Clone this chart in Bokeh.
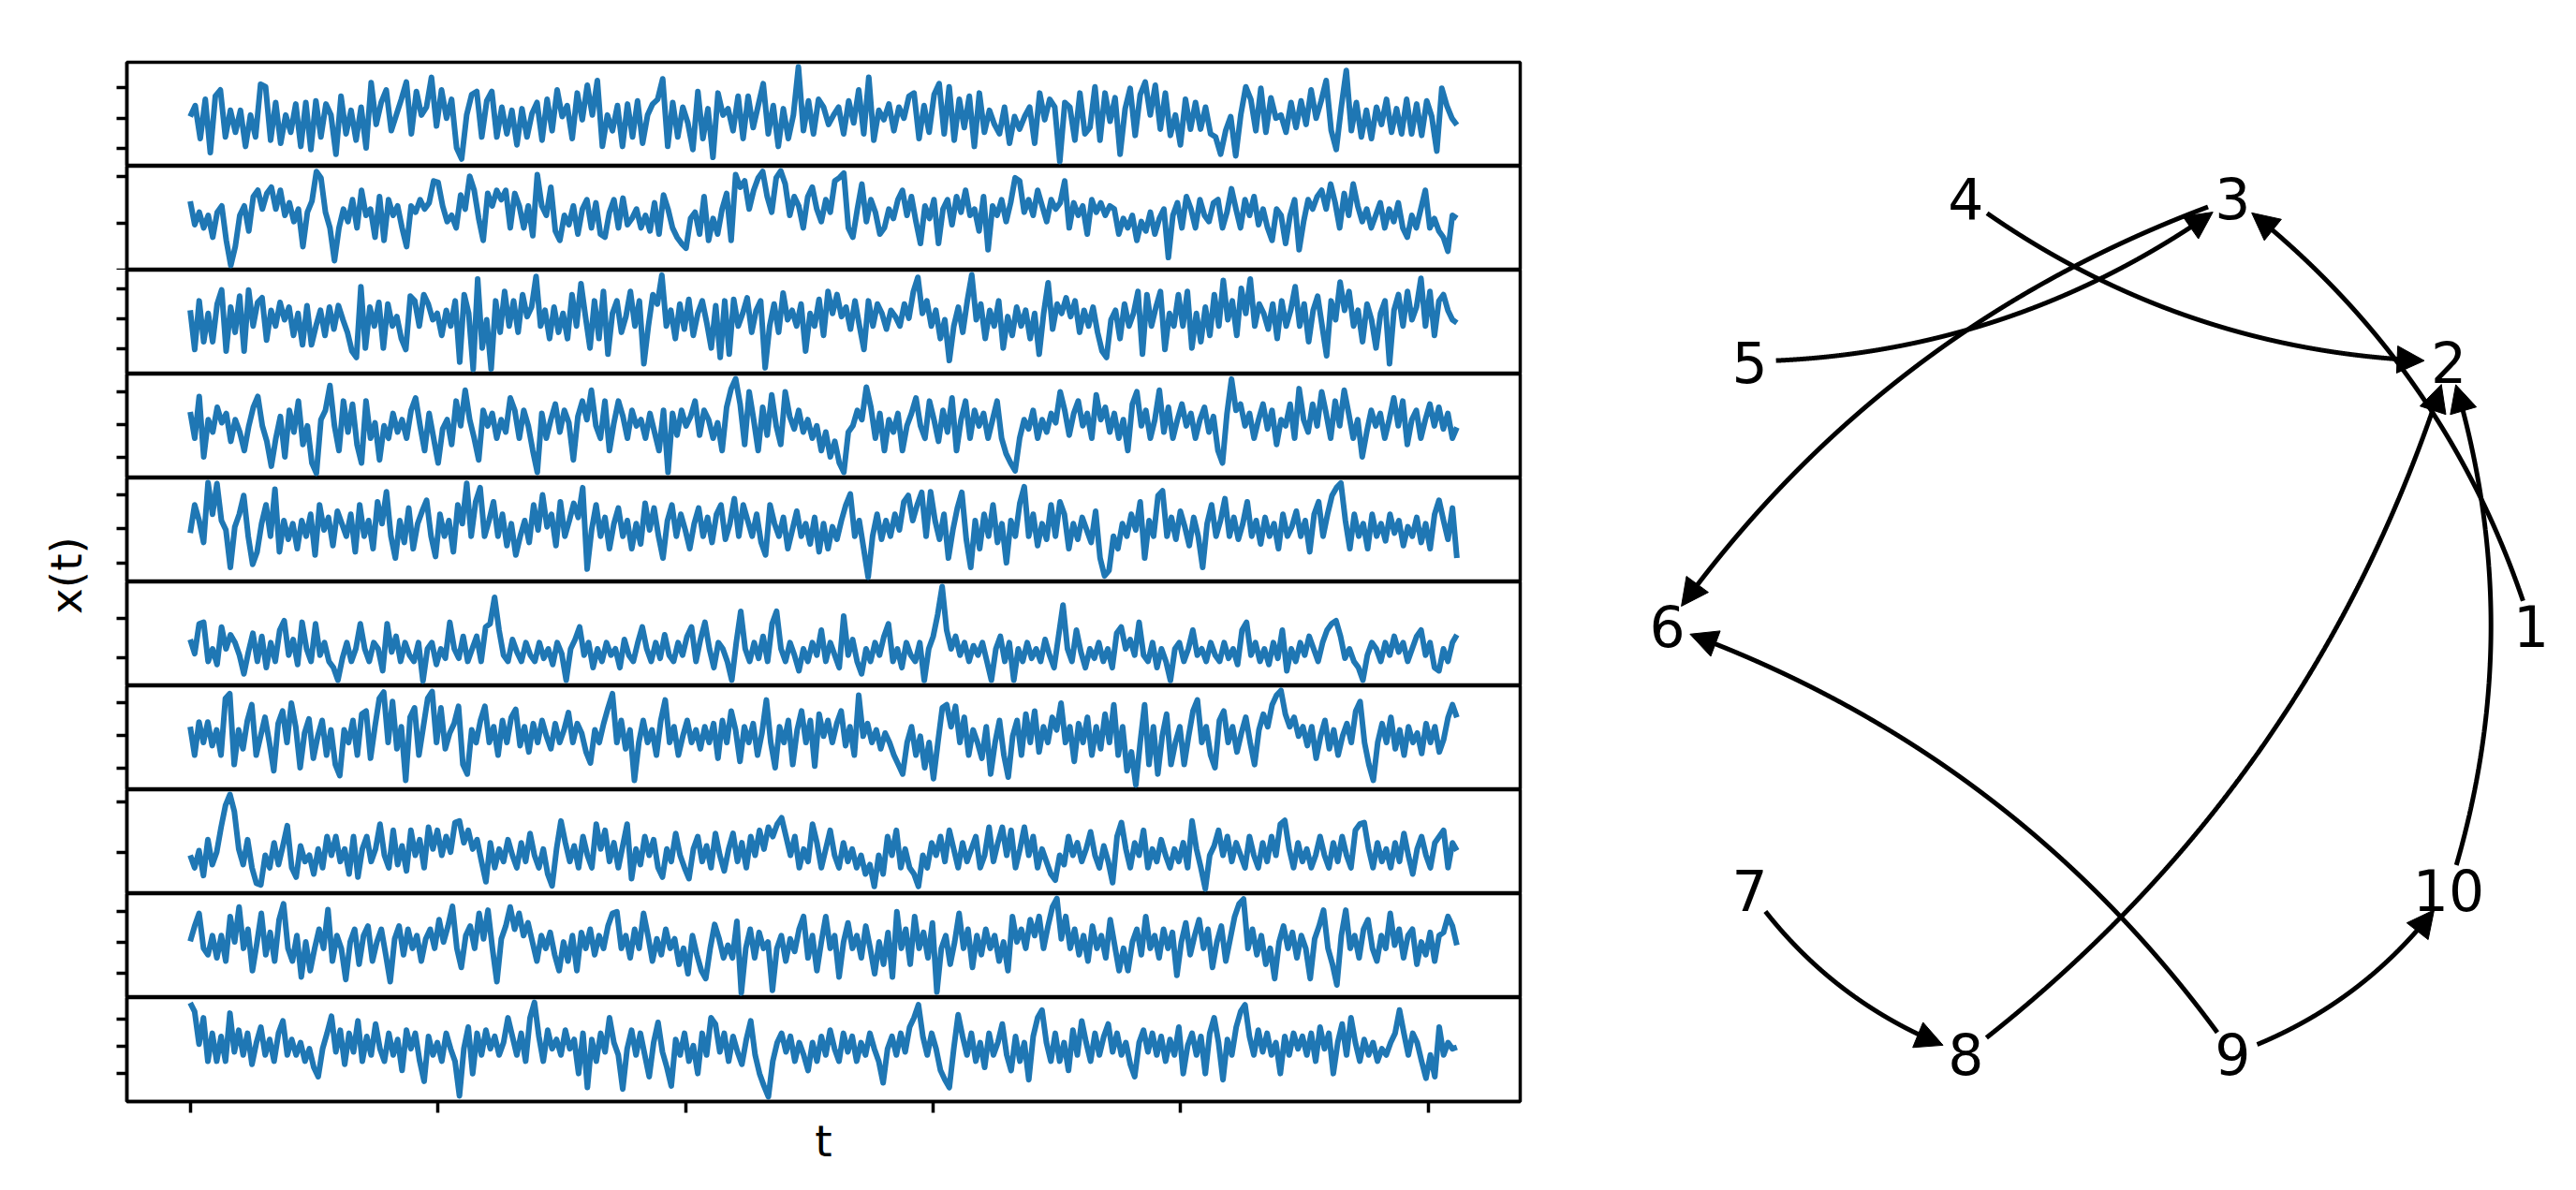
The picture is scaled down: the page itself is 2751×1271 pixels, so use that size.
import numpy as np
from bokeh.plotting import figure
from bokeh.layouts import row, column
from bokeh.models import Range1d, FixedTicker, Label, CustomLabelingPolicy
from bokeh.embed import file_html
from bokeh.resources import INLINE
from bokeh.core.properties import value

# ---------------- data ----------------
T_END = 1023
X_TICKS = [0, 200, 400, 600, 800, 1000]

S1 = [5, 40, -65, 60, -110, 70, 90, -60, 25, -45, 25, -90, 10, -60, 108, 100, -70, 50, -80, 10, -45, 45, -90, 50, -100, 55, -60, 45, 10, -115, 70, -50, 25, -70, 35, -95, 113, -20, 50, 90, -40, 10, 60, 115, -50, 85, 10, 35, 130, -25, 90, 0, 60, -95, -130, 10, 75, 85, -60, 55, 85, -60, 35, -50, 25, -85, 30, -60, 15, 50, -70, 60, -40, 90, 5, 40, -65, 80, -5, 105, 10, 120, -90, 10, -40, 40, -90, 45, -60, 55, -80, 10, 45, 60, 125, -90, 50, -60, 35, -15, -100, 85, -65, 30, -125, 80, 10, 30, -40, 70, -65, 70, -30, 40, 110, -50, 40, -90, 30, -65, 10, 163, -40, 55, -50, 60, 35, -20, 10, 35, -50, 55, -15, 90, -50, 130, -70, 25, -5, 45, -40, 35, 0, 70, 80, -65, 40, -45, 75, 110, -50, 100, -70, 60, -30, 70, -90, 80, -45, 25, -20, -50, 35, -80, 5, -35, 5, 35, -80, 80, -5, 60, 35, -138, 50, 35, -70, 80, -50, -30, 100, -70, 80, -10, 65, -115, 30, 95, -55, 75, 115, 10, 105, -35, 80, -55, 10, -85, 60, -35, 50, -35, 35, -50, -60, -115, -40, 5, -120, 10, 100, 60, -40, 95, -45, 65, 0, 10, -45, 50, -30, 55, -20, 90, 0, 55, 120, -40, -100, 35, 152, -40, 50, -60, 25, -65, 35, -20, 60, -45, 30, -50, 60, -50, 45, -55, 55, 5, -105, 95, 40, 0, -22]
S2 = [70, -5, 35, -15, 25, -45, 35, 55, -55, -135, -75, 25, 55, -25, 85, 105, 45, 95, 115, 45, 105, 25, 65, 5, 45, -75, 35, 70, 165, 145, 35, -15, -120, -15, 45, 5, 75, -15, 105, 25, 45, -45, 85, -55, 75, 25, 55, -15, -75, 55, 35, 75, 45, 65, 135, 130, 55, 5, 25, -15, 90, 45, 150, 105, 15, -55, 95, 55, 105, 75, 105, -15, 95, 55, -15, 55, -40, 155, 55, 25, 115, -25, -55, 25, -5, 55, -35, 45, 75, -15, 65, -35, -45, 35, 75, -15, 80, -5, 15, 45, -15, 25, -25, 65, -35, 90, 45, -15, -45, -65, -80, 15, 35, -35, 85, -55, 15, -35, 45, 95, -55, 155, 115, 135, 45, 105, 145, 165, 85, 35, 145, 167, 125, 25, 85, 55, -15, 85, 115, 45, 5, 75, 35, 135, 145, 160, -15, -45, 45, 125, 5, 75, 35, -35, -15, 45, 15, 75, 105, 25, 85, 5, -65, 55, 15, 75, -65, 45, 75, -5, 85, 35, 105, 25, 45, -25, 85, -85, 55, 25, 75, 5, 65, 145, 135, 35, 75, 25, 105, 55, 5, 75, 45, 65, 135, -15, 65, 25, 55, -35, 75, 35, 65, 25, 55, 45, -35, 15, -15, 25, -55, 5, -25, 35, -35, 15, 45, -110, 25, 65, -15, 85, 45, -15, 75, 25, 5, 65, 75, -15, 35, 110, 45, -15, 75, 25, 85, -5, 45, -15, -55, 45, 25, -65, 25, 75, -85, 5, 75, 45, 85, 105, 45, 125, 65, -15, 95, 25, 125, 55, 5, 45, -15, 25, 65, -15, 45, 5, 65, -15, -45, 25, -15, 45, 105, -15, 15, -25, -45, -90, 25, 15]
S3 = [27, -98, 57, -73, 17, -73, 47, 92, -103, 37, -43, 72, -103, 92, -23, 52, 67, -68, 27, -23, 52, -3, 37, -53, 17, -83, 42, -83, -23, 27, -53, 37, -33, 42, -3, -43, -103, -123, 102, -93, 37, -23, 52, -93, 47, -23, 7, -63, -98, 72, 57, -23, 77, 47, -3, 17, -53, 27, -23, 57, -138, 77, 17, -161, 127, -93, -3, -160, 57, -43, 87, -23, 57, -43, 77, 7, 37, 135, -23, 27, -63, 37, -43, 17, -63, 77, -23, 112, 7, -93, 57, -63, 87, -113, 17, 57, -43, 7, 87, -23, 57, -143, -23, 77, 47, 139, -23, 27, -63, 47, -33, 62, -53, 17, 57, -13, -93, 42, -123, 57, -113, 62, -23, 17, 67, -43, 27, 57, -156, -23, 47, -43, 82, -3, 27, -23, 47, -103, 17, -23, 62, -53, 87, 17, 77, 7, 37, -33, 57, -23, -98, 57, -23, 47, 17, -33, 27, 7, -23, 47, 2, 87, 132, 17, 57, -23, 27, -63, -3, -133, -23, 37, -43, 57, 140, -3, 47, -63, 27, -23, 57, -93, 7, -53, 37, -23, 27, -63, 17, -113, 17, 115, -33, 47, 17, 67, 7, 57, -43, 27, -23, 37, -43, -103, -123, -3, 27, -63, 47, -23, 17, 87, -113, 77, -23, 37, 87, -98, 17, -23, 77, -23, 87, -93, 17, -73, 37, -53, 77, -23, 122, -3, 57, -53, 97, 17, 127, -23, 47, 17, -33, 47, -63, 57, -23, 27, 102, -23, 47, -73, 27, 72, -23, -118, 57, -3, 117, 27, 87, -23, 27, -73, 47, -3, -93, 17, 57, -143, 27, 77, -23, 87, -3, 37, 129, -23, 87, -53, 57, 77, 27, -3, -13]
S4 = [42, -43, 92, -103, 17, -23, 57, 7, 37, -53, 17, -23, -83, -3, 57, 92, -3, -53, -133, -43, 27, -103, 47, -23, 77, -63, -3, -123, -156, 17, 47, 127, -3, -83, 77, -23, 67, -63, -123, 77, -43, 7, -113, -3, -43, 37, -23, 17, -43, 47, 87, -3, -83, 37, -43, -123, -13, 17, -63, 77, -3, 112, 17, -43, -113, 47, -3, 37, -43, 17, -23, 87, 47, -43, 47, -3, -83, -153, 37, -43, 17, 67, -23, 47, 7, -113, 27, 77, 17, 112, -3, -43, 77, -83, 7, 77, 27, -43, 47, -3, 17, -43, 37, -23, -83, 47, -153, 37, -33, 47, -3, 27, 77, -33, 47, 17, -43, 7, -83, 57, 117, 149, 67, -63, 107, 17, -83, 57, -33, 97, -3, -63, 107, 27, -13, 47, -23, 17, -43, -3, -83, -23, -103, -53, -123, -153, -23, -3, 47, 17, 122, 57, -43, 37, -83, 17, -23, 37, -83, -3, 37, 87, -3, -43, 77, 17, -53, 47, -23, 87, -83, 17, 77, -43, 47, -3, 37, -43, 17, 77, -43, -93, -123, -148, -43, 17, -13, 47, -43, 17, -23, 37, 7, 107, 47, -33, 37, 77, -3, 37, -43, 97, 17, 57, -23, 37, -43, 17, -83, 67, 107, -3, 47, -43, 17, 112, -23, 57, -43, 17, 67, -3, 37, -43, 17, 57, -23, 27, -83, -123, 37, 148, 47, 67, -3, 37, -43, 17, 67, -13, 47, -63, 17, -3, 67, -43, 117, 17, -23, 67, -3, 107, 37, -43, 77, -3, 112, 37, -43, 17, -103, -23, 47, -3, 37, -43, 17, 87, -3, 77, -63, 17, 47, -43, 17, 67, -3, 57, -13, 37, -43, -8]
S5 = [-13, 77, 27, -43, 148, 47, 145, 27, -3, -123, 7, 47, 107, -23, -113, -73, 17, 77, -23, 127, -73, 27, -33, 17, -63, 27, -23, 47, -83, 77, -3, 37, -53, 57, 17, -23, 47, -73, 77, -23, 27, -63, 87, 17, 119, -23, -93, 27, -43, 67, -63, 17, 57, 92, -23, -88, 47, -23, 27, -73, 77, 17, 146, -23, 87, 132, -23, 27, 87, -23, 47, -53, 17, -83, -23, 27, -43, 77, -3, 109, 7, 47, -53, 87, -23, 27, 82, 37, 132, -128, -3, 77, -23, 37, -63, 17, 67, -23, 27, -63, 17, -48, 82, -3, 67, -23, -93, 27, 77, -23, 47, -3, -63, 17, 67, -23, 37, -43, 47, 77, -33, 17, 97, -23, 77, 27, -23, 47, -43, -83, 77, 17, -23, 37, -63, -3, 57, -23, 17, -48, 37, -73, 17, -63, 7, -33, 27, 77, 112, -23, 27, -63, -154, -23, 47, -33, 27, -23, 47, -3, 87, 107, 27, 77, 117, -23, 119, 27, -33, 47, -93, -3, 67, 117, -33, -123, 27, -63, 47, -23, 77, -43, 17, -108, 27, -23, 82, 135, -23, 47, -53, 17, -33, 77, -23, 87, 47, -63, 17, -33, 37, -3, -43, 57, -93, -150, -133, -23, -63, 17, -23, 47, -3, 87, -93, 27, -23, 107, 122, -23, 37, -33, 57, 7, -53, 37, -23, -123, 17, 77, -23, 27, 97, -23, 37, -33, 17, 87, -23, 27, -48, 37, -23, 17, -63, 47, -23, 7, 57, -23, 27, -73, 47, 87, -23, 47, 107, 132, 147, 27, -63, 47, -23, 17, -63, 47, -23, 17, -38, 47, -13, 27, -53, 7, -23, 37, -43, 17, -63, 47, 92, 27, -33, 67, -93]
S6 = [57, 12, 107, 112, -13, 27, -23, 97, 27, 72, 47, 7, -53, 17, 77, -13, 67, -33, 47, -13, 87, 117, 7, 57, -23, 112, 27, -13, 107, 7, 47, -13, -33, -73, -3, 47, -13, 27, 107, 27, -13, 47, 27, -43, 107, 17, 67, -13, 47, 7, -13, 47, -76, 27, 47, -23, 27, -3, 112, 27, -3, 67, -13, 27, 67, -13, 97, 107, 192, 87, 7, -13, 57, 17, -13, 47, 7, -13, 47, -3, 27, -23, 47, 12, -73, 27, 57, 97, 7, 47, -33, 27, -13, 47, 7, 27, -33, 57, 7, -13, 47, 97, 27, -13, 47, -3, 72, 7, -13, 47, 7, 67, 97, -13, 57, 112, 27, -33, 47, 27, -13, -73, 47, 147, 27, -13, 47, -3, 67, -13, 107, 147, 27, -13, 47, 7, -43, 27, -13, 47, 7, 87, -13, 47, 7, -33, 132, 7, 57, -13, -53, 27, -13, 47, 7, 67, 107, -13, 27, -33, 47, 7, -13, 47, -74, 27, 67, 137, 226, 87, 27, 67, 7, 47, -13, 37, 7, 47, -13, -73, 27, 67, -13, 47, -73, 27, -13, 47, -3, 27, -13, 57, 7, -33, 67, 167, 27, -13, 87, 17, -33, 27, -3, 47, -13, 27, -33, 77, 97, 27, 57, 7, 112, 7, -13, 47, -33, 27, -13, -74, 27, 47, -13, 27, 87, 7, 27, -13, 47, 7, -13, 47, -3, 27, -23, 87, 112, 7, 47, -13, 27, -23, 47, -3, 87, -43, 27, -13, 47, 7, 67, 27, -13, 47, 87, 107, 117, 67, -3, 27, -13, -33, -73, 7, 47, 27, -13, 47, 7, 67, 17, 47, -13, 27, 67, 87, 7, 47, -33, -43, 27, -13, 47, 72]
S7 = [27, -63, 42, -23, 42, -33, 17, -63, 117, 132, -93, 17, -43, 47, 97, -63, -3, 57, -23, -113, 37, 77, -23, 102, 27, -103, 7, 52, -73, -3, 47, -63, 17, -93, -128, 17, -23, 47, -63, 67, 77, -73, 27, 117, 137, -23, 107, -43, 27, -143, 57, 87, -63, 27, 117, 139, -23, 87, -43, 7, 37, 92, -93, -123, 17, -23, 47, 92, -23, 27, -63, 47, -23, 57, 82, -33, 27, -53, 37, -23, 47, -3, -43, 37, -23, 17, 72, -23, 37, 7, -53, -88, 17, -23, 37, 87, 132, -23, 47, -43, 17, -143, -23, 47, -23, 17, -63, 47, 112, -23, 27, -63, -3, 47, -23, 17, -43, 27, -23, 37, -73, 47, -23, 77, 17, -83, 27, -23, 37, -63, 7, 112, -23, -103, 27, -23, 47, -93, 17, 77, -23, 47, -98, 67, -3, 47, -23, 37, 77, -33, 27, -63, 127, -3, 37, -23, 17, -43, 7, -23, -63, -93, -123, -23, 27, -63, -3, -103, -23, -138, -23, 87, 97, 27, 92, -23, 57, -63, 17, -23, -73, 27, -123, -23, 47, -63, -133, -3, 47, -63, 67, -23, 77, -53, 27, -23, 57, 17, 102, -23, 27, -83, 37, -23, 57, -63, 27, -43, 67, -23, 97, -63, 27, -113, -53, -158, -23, 97, -93, 27, -123, -3, 67, -93, -23, 27, -93, -3, 77, 112, -23, 27, -63, -103, 47, 77, -23, 27, -53, 7, 57, -23, -93, 17, 67, 27, 97, 127, 142, 67, 27, 57, -3, 27, -33, 27, -73, -3, 47, -43, 17, -63, -3, 37, -23, 77, 107, -23, -93, -143, -23, 37, -23, 57, -43, 17, -63, 27, -23, 7, -58, 37, -23, 27, -53, -13, 57, 97, 57]
S8 = [-8, -48, 7, -73, 42, -38, 2, 82, 152, 187, 132, 12, -38, 42, -48, -98, -103, -8, -48, 32, -38, 22, 87, -48, -78, 22, -28, -8, -68, 12, -48, 52, -8, 52, -28, 12, -68, 52, -78, 12, 52, -28, 12, 92, -8, -48, 72, -38, 22, -58, 72, -8, 42, -48, 82, 12, 72, -8, 52, 2, 97, 102, 32, 72, 12, 42, -28, -93, 32, -48, 12, -28, 42, -8, -48, 32, -28, 62, -8, -48, 12, -68, -106, 12, 102, 32, -28, 22, -48, 52, -8, -48, 92, 12, 72, -28, 32, -48, 22, 92, -83, 12, -38, 52, -8, 42, -48, -78, 12, -28, 62, -8, -48, -83, 12, 52, -28, 22, -48, 62, -8, -58, 12, 62, -28, 32, -48, 52, -8, 72, 12, 82, 52, 92, 112, 52, -8, 52, -48, 12, -28, 92, 32, -48, 12, 72, -8, -48, 32, -28, 12, -48, -8, -68, -38, -108, -8, -68, 52, -8, 72, -48, 12, -48, -68, -108, -8, -48, 32, -8, 52, -28, 72, 12, -48, 32, -28, 12, 52, -48, -8, 82, -28, 32, 82, -8, 72, -48, 12, 82, -8, 52, -48, 12, -28, -68, -88, -8, -38, 52, -8, 32, -28, 12, 67, -8, -48, 22, -28, -96, 52, 97, 12, -48, 32, -8, 72, -48, 12, -28, 42, -8, -48, 12, -28, 32, -48, 102, 12, -48, -116, -8, 22, 72, -8, 52, -28, 32, -8, -48, 52, -8, -48, 32, -28, 52, -8, 92, 104, 12, -48, 32, -28, 12, -48, -8, 52, -8, -48, 32, -28, 52, -8, -48, 72, 92, 97, 12, -48, 32, -28, 12, -48, 32, -28, 62, -8, -68, 12, 52, -8, -48, 32, 52, 72, -48, 32, 7]
S9 = [4, 52, 92, -18, -38, 22, -48, 22, -58, 82, 2, 112, -18, 42, -88, -2, 92, -38, 32, -58, 72, 122, -18, -58, 22, -108, 2, -88, -18, 42, -18, 104, -58, 22, -18, -116, 2, 42, -68, 22, 52, -58, 2, 42, -38, -123, 12, 52, -38, 42, -18, 22, -58, 12, 42, -18, 72, 2, 52, 114, -18, -78, 22, 52, -18, 92, 12, 102, -18, -123, 12, 52, 112, 42, 92, 22, 62, 2, -58, 22, -18, 32, -38, -88, 2, -58, 22, -88, 32, -18, 42, -38, 22, -18, 52, 92, 97, -18, 22, -48, 42, -18, 92, 22, -58, 12, -38, 42, -18, 12, -68, -18, -98, 22, -38, -88, -113, -18, 57, 12, -48, -8, -48, 67, -158, -18, 42, -48, 32, -18, 2, -150, -18, 22, -58, 12, -28, 42, 82, -48, 22, -88, 2, 82, -18, 22, -108, 2, 62, -18, 22, -48, 52, -18, -98, 2, -68, 32, -108, 97, -18, 42, -68, 82, -18, 32, -48, 62, -155, -18, 22, -68, 2, 92, -18, 42, -78, 22, -38, 42, -18, 22, -58, 2, -88, 82, 2, 42, -18, 72, 22, 82, -18, 52, 112, 139, 12, 82, -18, 42, -38, 22, -58, 52, -18, 22, -48, 72, -8, -88, -18, -88, 2, 42, -38, 82, -18, 22, -48, 42, -18, 32, -103, 2, 62, -38, 22, 72, -18, 42, -78, 2, 52, -58, 12, 82, 122, 137, -18, 42, -38, 22, -68, -18, -113, 2, 52, -18, 32, -48, 22, -18, -113, 12, 52, 102, -18, -68, -133, 22, 102, -18, 22, -48, 42, 72, -18, -58, 22, -18, 92, -8, 42, -48, 22, 42, -68, 2, -38, 32, -58, 22, 32, 82, 52, -8]
S10 = [140, 112, 7, 92, -48, 42, -48, 32, -48, 107, -18, 52, -28, 42, -58, 12, 62, -28, 22, -48, 42, 82, -28, 22, -28, 12, -48, -8, -68, -98, -8, 42, 97, -18, 52, -58, 42, -18, 82, -48, 32, -28, 72, -8, -48, 42, -28, 22, -78, 52, -8, 42, -48, -113, 32, -28, 12, -48, 42, -8, -48, -160, -8, 62, -88, 42, -28, 52, -8, 32, -28, 12, 92, 32, -28, 42, -48, 92, 142, 32, -48, 52, -8, 22, -28, 52, -8, 22, -88, 42, -133, 22, -48, 42, -18, 92, 12, -28, -138, -8, 52, -28, 42, -28, -98, 12, 77, -18, -68, -128, 22, -28, 42, -48, 2, -88, 42, -28, 92, 72, -18, 42, -48, 32, -18, -58, 22, 82, -28, -88, -128, -163, -48, 12, 42, -18, 32, -48, 12, -28, -78, 12, -48, 32, -28, 52, -8, -48, 42, -18, 32, -48, 12, -28, 42, -8, -48, -118, -8, 32, -28, 42, -18, 62, 92, 134, 32, -28, 42, -8, -78, -108, -133, -8, 102, 32, -28, 42, -48, 12, -68, 42, -28, 12, 72, -28, -78, 32, -48, 12, -108, 32, 92, 117, 12, -48, 42, -48, 12, -78, 52, -28, 82, 12, -48, 42, -28, 32, 72, -18, 42, -28, 12, -58, -98, 12, 52, -18, 42, -28, 32, -48, 22, -28, 62, -88, 2, 42, -28, 32, -88, 42, 92, 12, -108, 22, -28, 62, 112, 134, 32, -28, 52, -18, 42, -28, 12, -88, 32, -28, 42, -8, 32, -28, 42, -48, 62, -8, 42, -88, 12, 72, -28, 92, 12, -48, 22, -28, 12, -48, -8, -28, 12, 42, 117, 42, -28, 42, 12, -48, -103, -28, -98, 62, -28, 12, -8, -3]

SERIES = [S1, S2, S3, S4, S5, S6, S7, S8, S9, S10]
Y_TICKS = [[-97, 0, 97], [-150, 0, 150], [-96, 0, 96], [-106, 0, 106], [-108, 0, 108],
           [0, 124], [-104, 0, 104], [0, 162], [-97, 0, 97], [-89, 0, 89]]
X_LABEL, Y_LABEL = "t", "x(t)"

NODES = [1, 2, 3, 4, 5, 6, 7, 8, 9, 10]
EDGES = [(1, 3), (4, 2), (5, 3), (3, 6), (9, 6), (8, 2), (10, 2), (7, 8), (9, 10)]

# ---------------- styles / layout ----------------
BLUE = "#1f77b4"
FONT = "DejaVu Sans"
FRAME_W, STRIP_H = 1488, 111
LEFT_B, RIGHT_B, TOP_B, BOTTOM_B = 30, 4, 66, 80
TOTAL_H = TOP_B + STRIP_H * len(SERIES) + BOTTOM_B
YL_W = 105
GW = 1110
STRIP_W = LEFT_B + FRAME_W + RIGHT_B
CX_PX = 2241.3 - (YL_W + STRIP_W)   # circle centre inside graph canvas (from left)
CY_PX = 668.0                       # (from top)
RX, RY = 461.3, 480.6               # px per layout unit
RAD = 0.16
SHRINK_SRC, SHRINK_TGT = 28.0, 26.0
HEAD_L, HEAD_HW = 29.0, 14.5
LINE_W = 6
FRAME_LW = 3.5
EDGE_W = 5

no_labels = CustomLabelingPolicy(code="return new Set()")

# ---------------- y label column ----------------
yl = figure(width=YL_W, height=TOTAL_H, x_range=Range1d(0, 1), y_range=Range1d(0, 1),
            output_backend="svg", toolbar_location=None, x_axis_location=None,
            y_axis_location=None, min_border=0, outline_line_color=None)
yl.grid.visible = False
yl.add_layout(Label(x=70, y=TOTAL_H - 614, x_units="screen", y_units="screen", text=Y_LABEL,
                    angle=np.pi / 2, text_align="center", text_baseline="middle",
                    text_font=FONT, text_font_size="47px", text_color="black"))

# ---------------- strips ----------------
strips = []
n_strips = len(SERIES)
for i, (vals, ticks) in enumerate(zip(SERIES, Y_TICKS)):
    v = np.asarray(vals, dtype=float)
    t = np.linspace(0, T_END, len(v))
    lo, hi = v.min(), v.max()
    pad = 0.05 * (hi - lo)
    first, last = i == 0, i == n_strips - 1
    h = STRIP_H + (TOP_B if first else 0) + (BOTTOM_B if last else 0)
    p = figure(width=STRIP_W, height=h,
               x_range=Range1d(-0.05 * T_END, 1.05 * T_END), y_range=Range1d(lo - pad, hi + pad),
               output_backend="svg", toolbar_location=None,
               x_axis_location="below" if last else None, y_axis_location="left",
               min_border_left=LEFT_B, min_border_right=RIGHT_B,
               min_border_top=TOP_B if first else 0, min_border_bottom=BOTTOM_B if last else 0)
    p.grid.visible = False
    p.outline_line_color = "black"
    p.outline_line_width = FRAME_LW
    p.yaxis.ticker = FixedTicker(ticks=ticks)
    p.yaxis.major_label_policy = no_labels
    p.yaxis.major_label_text_font_size = "1px"
    p.yaxis.major_label_standoff = 0
    p.yaxis.major_tick_out = 11
    p.yaxis.major_tick_in = 0
    p.yaxis.major_tick_line_width = FRAME_LW
    p.yaxis.minor_tick_line_color = None
    p.yaxis.axis_line_width = FRAME_LW
    if last:
        p.xaxis.ticker = FixedTicker(ticks=X_TICKS)
        p.xaxis.major_label_policy = no_labels
        p.xaxis.major_label_text_font_size = "1px"
        p.xaxis.major_label_standoff = 0
        p.xaxis.major_tick_out = 12
        p.xaxis.major_tick_in = 0
        p.xaxis.major_tick_line_width = FRAME_LW
        p.xaxis.minor_tick_line_color = None
        p.xaxis.axis_line_width = FRAME_LW
        p.xaxis.axis_label = X_LABEL
        p.xaxis.axis_label_text_font = FONT
        p.xaxis.axis_label_text_font_size = "47px"
        p.xaxis.axis_label_text_font_style = "normal"
        p.xaxis.axis_label_text_color = "black"
        p.xaxis.axis_label_standoff = -2
    p.line(t, v, line_color=BLUE, line_width=LINE_W, line_join="round")
    strips.append(p)

# ---------------- graph ----------------
g = figure(width=GW, height=TOTAL_H,
           x_range=Range1d(-CX_PX / RX, (GW - CX_PX) / RX),
           y_range=Range1d(-(TOTAL_H - CY_PX) / RY, CY_PX / RY),
           output_backend="svg", toolbar_location=None, x_axis_location=None,
           y_axis_location=None, min_border=0, outline_line_color=None)
g.grid.visible = False

step = 2 * np.pi / len(NODES)
pos = {n: np.array([np.cos(k * step), np.sin(k * step)]) for k, n in enumerate(NODES)}
scale = np.array([RX, RY])
s = np.linspace(0, 1, 3001)
lx, ly, hx, hy = [], [], [], []
for u, w in EDGES:
    p0 = pos[u] * scale
    p2 = pos[w] * scale
    d = p2 - p0
    c = (p0 + p2) / 2 + RAD * np.array([d[1], -d[0]])
    B = ((1 - s) ** 2)[:, None] * p0 + (2 * (1 - s) * s)[:, None] * c + (s ** 2)[:, None] * p2
    da = np.hypot(*(B - p0).T)
    db = np.hypot(*(B - p2).T)
    i_tip = int(np.argmax(db <= SHRINK_TGT))
    tip = B[i_tip]
    tan = 2 * (1 - s[i_tip]) * (c - p0) + 2 * s[i_tip] * (p2 - c)
    e = tan / np.linalg.norm(tan)
    nrm = np.array([-e[1], e[0]])
    base = tip - HEAD_L * e
    tri = np.array([tip, base + HEAD_HW * nrm, base - HEAD_HW * nrm]) / scale
    dt = np.hypot(*(B - tip).T)
    keep = (da >= SHRINK_SRC) & (np.arange(len(s)) <= i_tip) & (dt >= HEAD_L * 0.8)
    seg = B[keep] / scale
    lx.append(seg[:, 0].tolist()); ly.append(seg[:, 1].tolist())
    hx.append(tri[:, 0].tolist()); hy.append(tri[:, 1].tolist())

g.multi_line(lx, ly, line_color="black", line_width=EDGE_W)
g.patches(hx, hy, fill_color="black", line_color="black", line_width=1)
g.text(x=[pos[n][0] for n in NODES], y=[pos[n][1] for n in NODES], text=[str(n) for n in NODES],
       text_font=value(FONT), text_font_size="60px", text_align="center",
       text_baseline="middle", text_color="black")

layout = row(yl, column(*strips, spacing=0), g, spacing=0)
open("out.html", "w").write(file_html(layout, INLINE))
